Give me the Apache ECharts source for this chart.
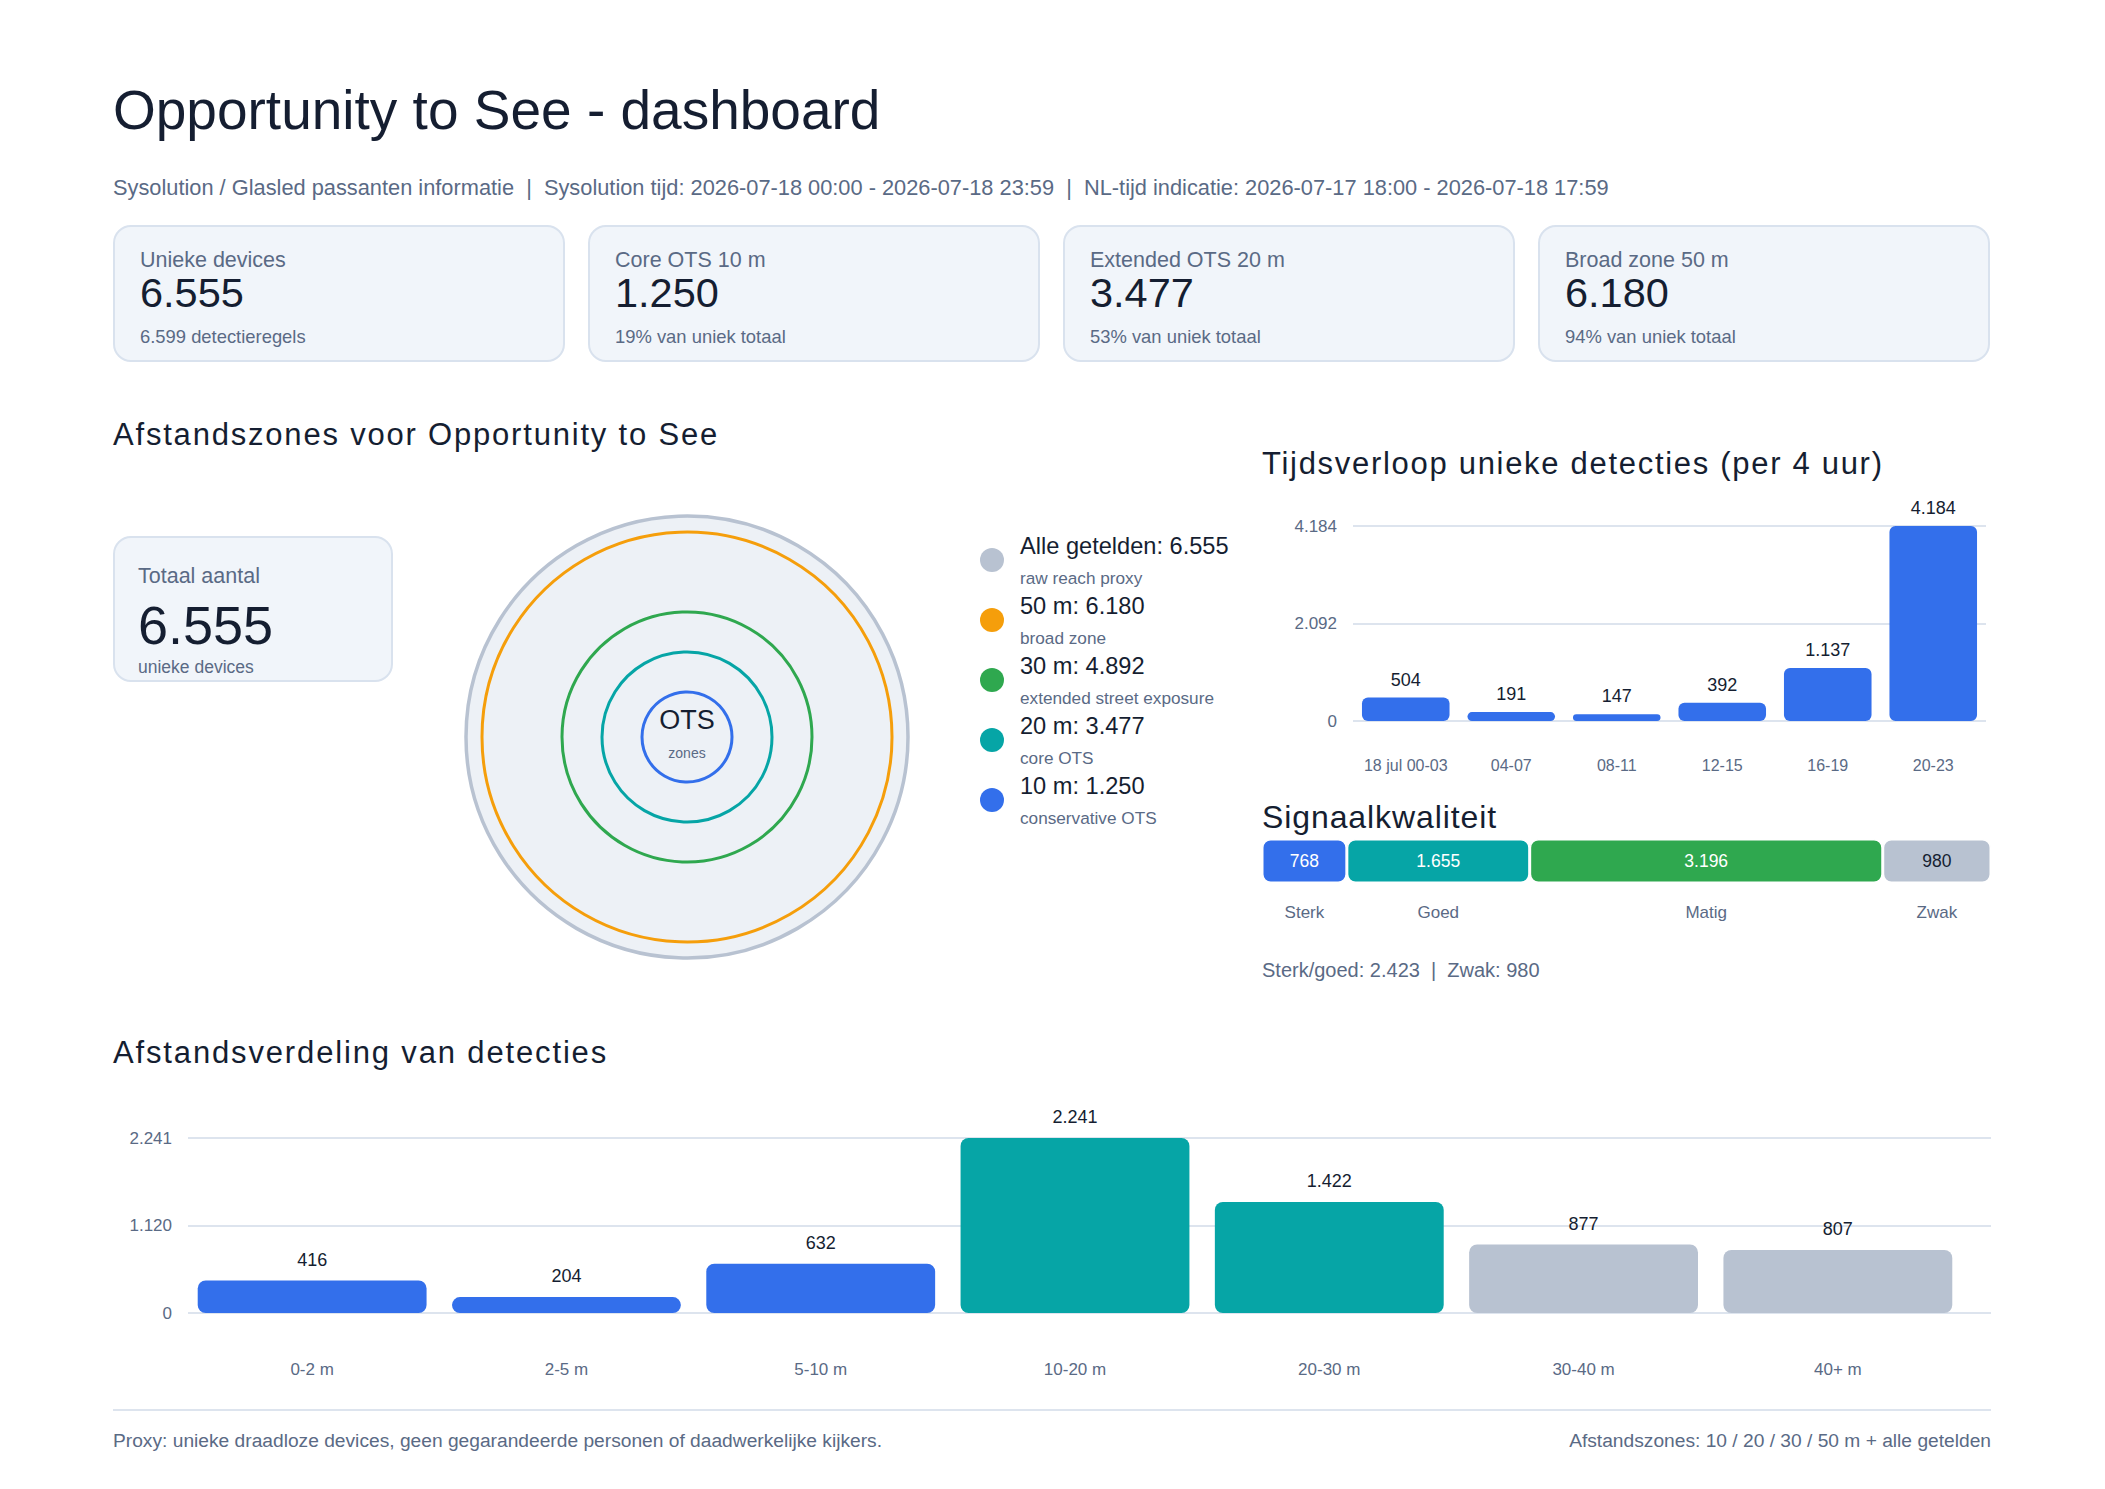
<!DOCTYPE html>
<html>
<head>
<meta charset="utf-8">
<title>Opportunity to See - dashboard</title>
<script src="https://cdn.jsdelivr.net/npm/echarts@6/dist/echarts.min.js"></script>
<style>
html, body { margin: 0; padding: 0; background: #fff; }
body { position: relative; width: 2105px; height: 1489px; overflow: hidden;
       font-family: "Liberation Sans", Arial, Helvetica, sans-serif; }
.t { position: absolute; line-height: 1; white-space: pre; z-index: 2; }
.box { position: absolute; box-sizing: border-box; background: #f1f5fa;
       border: 2px solid #d9e2ee; border-radius: 18px; z-index: 0; }
.dot { position: absolute; border-radius: 50%; z-index: 2; }
.rule { position: absolute; left: 113px; top: 1409px; width: 1878px; height: 2px; background: #dde4ee; }
#chart { position: absolute; left: 0; top: 0; width: 2105px; height: 1489px; z-index: 1; }
</style>
</head>
<body>
<div class="rule"></div>
<div id="chart"></div>
<script>
// ---- data ----
var KPI_LABELS = ['Unieke devices', 'Core OTS 10 m', 'Extended OTS 20 m', 'Broad zone 50 m'];
var KPI_VALUES = [6555, 1250, 3477, 6180];
var KPI_NOTES = ['6.599 detectieregels', '19% van uniek totaal', '53% van uniek totaal', '94% van uniek totaal'];

var ZONE_NAMES = ['Alle getelden', '50 m', '30 m', '20 m', '10 m'];
var ZONE_COUNTS = [6555, 6180, 4892, 3477, 1250];
var ZONE_NOTES = ['raw reach proxy', 'broad zone', 'extended street exposure', 'core OTS', 'conservative OTS'];
var ZONE_DIST = [null, 50, 30, 20, 10];   // meters, null = alle getelden (buitenrand)

var TIME_CATS = ['18 jul 00-03', '04-07', '08-11', '12-15', '16-19', '20-23'];
var TIME_VALUES = [504, 191, 147, 392, 1137, 4184];

var SIGNAL_CATS = ['Sterk', 'Goed', 'Matig', 'Zwak'];
var SIGNAL_VALUES = [768, 1655, 3196, 980];

var DIST_CATS = ['0-2 m', '2-5 m', '5-10 m', '10-20 m', '20-30 m', '30-40 m', '40+ m'];
var DIST_VALUES = [416, 204, 632, 2241, 1422, 877, 807];

// ---- styles ----
var FONT = '"Liberation Sans", Arial, Helvetica, sans-serif';
var DARK = '#151e31', SLATE = '#5a6a85', GRIDC = '#dde4ee';
var BLUE = '#336feb', TEAL = '#06a5a6', GREEN = '#2fa84f', GREY = '#b8c2d1', ORANGE = '#f59e0b';
var ZONE_COLORS = [GREY, ORANGE, GREEN, TEAL, BLUE];
var SIGNAL_COLORS = [BLUE, TEAL, GREEN, GREY];
var DIST_COLORS = [BLUE, BLUE, BLUE, TEAL, TEAL, GREY, GREY];
var RING_MAX = 54;

function fmt(v) {
    return String(Math.floor(v)).replace(/\B(?=(\d{3})+(?!\d))/g, '.');
}

// text placed by baseline (line-height 1 => baseline = top + 0.8465em)
function put(text, x, base, size, color, opt) {
    opt = opt || {};
    var d = document.createElement('div');
    d.className = 't';
    d.textContent = text;
    d.style.fontSize = size + 'px';
    d.style.color = color;
    d.style.top = (base - 0.8465 * size) + 'px';
    if (opt.align === 'center') {
        d.style.left = x + 'px';
        d.style.transform = 'translateX(-50%)';
    } else if (opt.align === 'right') {
        d.style.right = (2105 - x) + 'px';
    } else {
        d.style.left = x + 'px';
    }
    if (opt.ls) d.style.letterSpacing = opt.ls + 'px';
    document.body.appendChild(d);
}
function box(x, y, w, h) {
    var d = document.createElement('div');
    d.className = 'box';
    d.style.left = x + 'px'; d.style.top = y + 'px';
    d.style.width = w + 'px'; d.style.height = h + 'px';
    document.body.appendChild(d);
}

// header
put('Opportunity to See - dashboard', 113, 130, 55, DARK);
put('Sysolution / Glasled passanten informatie  |  Sysolution tijd: 2026-07-18 00:00 - 2026-07-18 23:59  |  NL-tijd indicatie: 2026-07-17 18:00 - 2026-07-18 17:59',
    113, 195, 21.8, SLATE);

// kpi cards
KPI_LABELS.forEach(function (lab, i) {
    var x = 113 + i * 475;
    box(x, 225, 452, 137);
    put(lab, x + 27, 268, 21.5, SLATE);
    put(fmt(KPI_VALUES[i]), x + 27, 307, 41.5, DARK);
    put(KPI_NOTES[i], x + 27, 344, 18.4, SLATE);
});

// section headings
put('Afstandszones voor Opportunity to See', 113, 445, 31, DARK, { ls: 1.8 });
put('Tijdsverloop unieke detecties (per 4 uur)', 1262, 474, 31, DARK, { ls: 1.7 });
put('Signaalkwaliteit', 1262, 828, 32, DARK, { ls: 0.9 });
put('Afstandsverdeling van detecties', 113, 1063, 31, DARK, { ls: 1.85 });

// totaal card
box(113, 536, 280, 146);
put('Totaal aantal', 138, 584, 21.5, SLATE);
put(fmt(ZONE_COUNTS[0]), 138, 644, 54, DARK);
put('unieke devices', 138, 674, 17.5, SLATE);

// ring centre text
put('OTS', 687, 730, 27, DARK, { align: 'center' });
put('zones', 687, 758, 14, SLATE, { align: 'center' });

// zone legend
ZONE_NAMES.forEach(function (n, i) {
    var dot = document.createElement('div');
    dot.className = 'dot';
    dot.style.left = '980px'; dot.style.top = (548 + 60 * i) + 'px';
    dot.style.width = '24px'; dot.style.height = '24px';
    dot.style.background = ZONE_COLORS[i];
    document.body.appendChild(dot);
    put(n + ': ' + fmt(ZONE_COUNTS[i]), 1020, 555 + 60 * i, 23.6, DARK);
    put(ZONE_NOTES[i], 1020, 585 + 60 * i, 17.2, SLATE);
});

// signal summary
put('Sterk/goed: ' + fmt(SIGNAL_VALUES[0] + SIGNAL_VALUES[1]) + '  |  Zwak: ' + fmt(SIGNAL_VALUES[3]), 1262, 977, 20, SLATE);

// footer
put('Proxy: unieke draadloze devices, geen gegarandeerde personen of daadwerkelijke kijkers.', 113, 1447, 19.2, SLATE);
put('Afstandszones: 10 / 20 / 30 / 50 m + alle getelden', 1991, 1447, 19.2, SLATE, { align: 'right' });

// ---- chart ----
var chart = echarts.init(document.getElementById('chart'), null, { renderer: 'svg' });

var timeMax = Math.max.apply(null, TIME_VALUES);
var distMax = Math.max.apply(null, DIST_VALUES);
var signalTotal = SIGNAL_VALUES.reduce(function (a, b) { return a + b; }, 0);

var signalSeries = SIGNAL_CATS.map(function (name, i) {
    var v = SIGNAL_VALUES[i];
    return {
        name: name,
        type: 'bar',
        stack: 'signaal',
        xAxisIndex: 1,
        yAxisIndex: 1,
        barWidth: 44,
        data: [
            {
                value: v,
                itemStyle: { color: SIGNAL_COLORS[i], borderRadius: 8, borderColor: '#fff', borderWidth: 1.5 },
                label: { show: true, position: 'inside', formatter: fmt(v), fontSize: 17.5,
                         color: i < 3 ? '#fff' : DARK }
            },
            {
                value: v,
                itemStyle: { color: 'transparent' },
                label: { show: true, position: 'inside', formatter: name, fontSize: 17, color: SLATE }
            }
        ]
    };
});

var option = {
    animation: false,
    textStyle: { fontFamily: FONT },
    polar: { center: [687, 737], radius: 221 },
    radiusAxis: { type: 'value', min: -1.25, max: RING_MAX, show: false },
    angleAxis: { type: 'value', min: 0, max: 360, show: false },
    grid: [
        { left: 1353, top: 526, width: 633, height: 195 },     // tijdsverloop
        { left: 1262, top: 835.5, width: 729, height: 102 },   // signaalkwaliteit
        { left: 188, top: 1138, width: 1803, height: 175 },    // afstand: assen
        { left: 185, top: 1138, width: 1780, height: 175 }     // afstand: staven
    ],
    xAxis: [
        {
            gridIndex: 0, type: 'category', data: TIME_CATS,
            axisLine: { show: false }, axisTick: { show: false },
            axisLabel: { color: SLATE, fontSize: 16, margin: 36, interval: 0 }
        },
        { gridIndex: 1, type: 'value', min: 0, max: signalTotal, show: false },
        { gridIndex: 2, type: 'value', show: false },
        {
            gridIndex: 3, type: 'category', data: DIST_CATS,
            axisLine: { show: false }, axisTick: { show: false },
            axisLabel: { color: SLATE, fontSize: 17, margin: 48, interval: 0 }
        }
    ],
    yAxis: [
        {
            gridIndex: 0, type: 'value', min: 0, max: timeMax, interval: timeMax / 2,
            axisLine: { show: false }, axisTick: { show: false },
            axisLabel: { color: SLATE, fontSize: 17, margin: 16, formatter: fmt },
            splitLine: { lineStyle: { color: GRIDC, width: 2 } }
        },
        { gridIndex: 1, type: 'category', data: ['balk', 'label'], inverse: true, show: false },
        {
            gridIndex: 2, type: 'value', min: 0, max: distMax, interval: distMax / 2,
            axisLine: { show: false }, axisTick: { show: false },
            axisLabel: { color: SLATE, fontSize: 17, margin: 16, formatter: fmt },
            splitLine: { lineStyle: { color: GRIDC, width: 2 } }
        },
        { gridIndex: 3, type: 'value', min: 0, max: distMax, show: false }
    ],
    series: [
        {
            name: 'zones',
            type: 'custom',
            coordinateSystem: 'polar',
            silent: true,
            data: ZONE_DIST.map(function (d) { return [d == null ? RING_MAX : d, 0]; }),
            renderItem: function (params, api) {
                var cs = params.coordSys;
                var p = api.coord([api.value(0), 0]);
                var r = Math.sqrt(Math.pow(p[0] - cs.cx, 2) + Math.pow(p[1] - cs.cy, 2));
                var i = params.dataIndex;
                return {
                    type: 'circle',
                    shape: { cx: cs.cx, cy: cs.cy, r: r },
                    style: {
                        fill: i === 0 ? '#edf1f6' : 'none',
                        stroke: ZONE_COLORS[i],
                        lineWidth: i === 0 ? 3.5 : 3
                    }
                };
            }
        },
        {
            name: 'Tijdsverloop',
            type: 'bar',
            xAxisIndex: 0,
            yAxisIndex: 0,
            barCategoryGap: '17%',
            data: TIME_VALUES,
            itemStyle: { color: BLUE, borderRadius: 6 },
            label: { show: true, position: 'top', distance: 9, fontSize: 18, color: DARK,
                     formatter: function (p) { return fmt(p.value); } }
        }
    ].concat(signalSeries).concat([
        {
            name: 'Afstand',
            type: 'bar',
            xAxisIndex: 3,
            yAxisIndex: 3,
            barCategoryGap: '10%',
            data: DIST_VALUES.map(function (v, i) {
                return { value: v, itemStyle: { color: DIST_COLORS[i] } };
            }),
            itemStyle: { borderRadius: 8 },
            label: { show: true, position: 'top', distance: 12, fontSize: 18, color: DARK,
                     formatter: function (p) { return fmt(p.value); } }
        }
    ])
};
chart.setOption(option);
</script>
</body>
</html>
